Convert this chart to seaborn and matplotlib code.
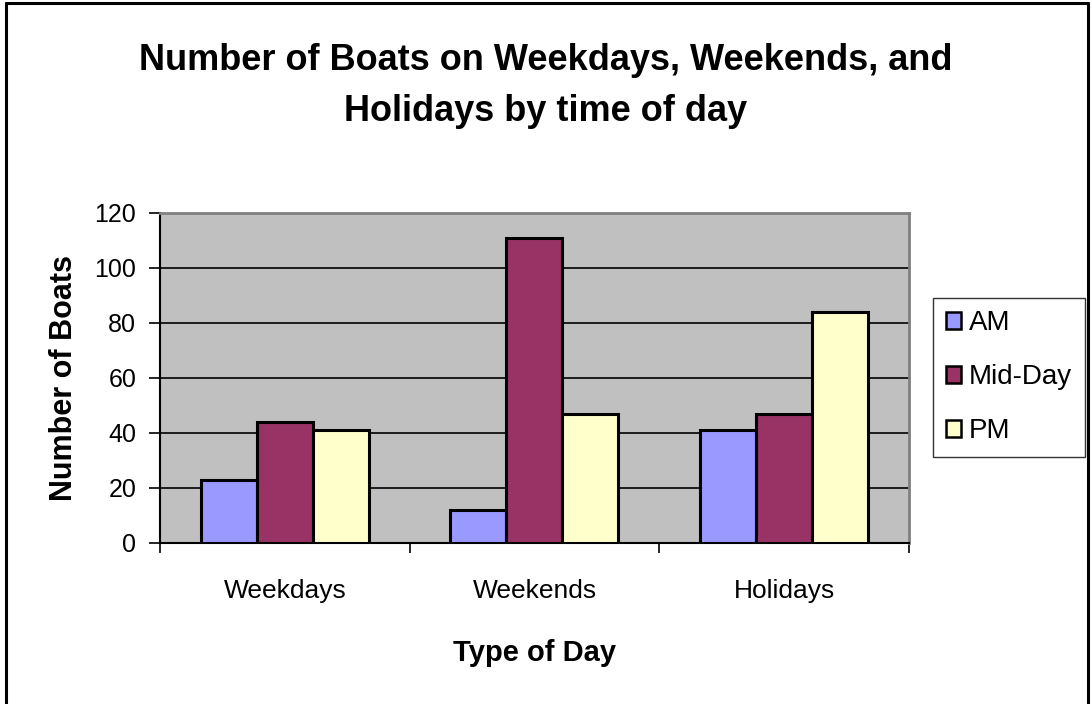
import matplotlib
matplotlib.use("Agg")
import matplotlib.pyplot as plt
import matplotlib.patches as mpatches
from matplotlib.lines import Line2D
from matplotlib.ticker import FixedLocator
import seaborn as sns
import pandas as pd

days = ["Weekdays", "Weekends", "Holidays"]
periods = ["AM", "Mid-Day", "PM"]
am = [23, 12, 41]
midday = [44, 111, 47]
pm = [41, 47, 84]
colors = ["#9999FF", "#993366", "#FFFFCC"]

rows = []
for series, vals in zip(periods, [am, midday, pm]):
    for d, v in zip(days, vals):
        rows.append({"Type of Day": d, "Period": series, "Boats": v})
df = pd.DataFrame(rows)

sns.set_theme(style="white")
plt.rcParams["font.family"] = ["Liberation Sans", "DejaVu Sans"]
for key in ["text.color", "axes.labelcolor", "xtick.color", "ytick.color"]:
    plt.rcParams[key] = "black"

fig = plt.figure(figsize=(10.92, 7.04), dpi=100)
fig.patch.set_facecolor("white")
ax = fig.add_axes([0.1465, 0.2287, 0.6859, 0.4688])
ax.set_facecolor("#C0C0C0")

sns.barplot(data=df, x="Type of Day", y="Boats", hue="Period",
            order=days, hue_order=periods, palette=colors,
            width=0.673, gap=0, edgecolor="black", linewidth=2.2,
            saturation=1, legend=False, ax=ax, zorder=3)

ax.set_xlim(-0.5, 2.5)
ax.set_ylim(0, 120)
ax.set_yticks(range(0, 121, 20))
ax.yaxis.grid(True, color="black", linewidth=1.2, zorder=0)
ax.set_axisbelow(True)
ax.tick_params(axis="y", direction="out", length=8, width=1.2,
               color="black", labelsize=18, pad=9, left=True)
ax.tick_params(axis="x", which="major", length=0, labelsize=19, pad=26)
ax.xaxis.set_minor_locator(FixedLocator([-0.5, 0.5, 1.5, 2.5]))
ax.tick_params(axis="x", which="minor", direction="out", length=7,
               width=1.2, color="black", bottom=True)

for side in ["top", "right"]:
    ax.spines[side].set_color("#808080")
    ax.spines[side].set_linewidth(2)
ax.spines["left"].set_color("black")
ax.spines["left"].set_linewidth(1.5)
ax.spines["bottom"].set_color("black")
ax.spines["bottom"].set_linewidth(1.5)

ax.set_xlabel("Type of Day", fontsize=21, fontweight="bold", labelpad=26)
ax.set_ylabel("Number of Boats", fontsize=22, fontweight="bold", labelpad=11)

fig.text(0.5, 1 - 86 / 704,
         "Number of Boats on Weekdays, Weekends, and\nHolidays by time of day",
         ha="center", va="center", fontsize=26, fontweight="bold",
         linespacing=1.6)

handles = [mpatches.Patch(facecolor=c, edgecolor="black", linewidth=1.8, label=p)
           for c, p in zip(colors, periods)]
leg = fig.legend(handles=handles, loc="upper left",
                 bbox_to_anchor=(933 / 1092, 1 - 298 / 704),
                 fontsize=20, frameon=True, fancybox=False,
                 handlelength=0.55, handleheight=0.55, handletextpad=0.3,
                 labelspacing=1.0, borderpad=0.45, borderaxespad=0)
leg.get_frame().set_edgecolor("black")
leg.get_frame().set_linewidth(1)

# page frame on the left, top and right edges
for xs, ys in [([6 / 1092, 6 / 1092], [0, 1 - 3 / 704]),
               ([6 / 1092, 1088 / 1092], [1 - 3 / 704, 1 - 3 / 704]),
               ([1088 / 1092, 1088 / 1092], [0, 1 - 3 / 704])]:
    fig.add_artist(Line2D(xs, ys, transform=fig.transFigure,
                          color="black", linewidth=2.2))

fig.savefig("out.png", dpi=100)
